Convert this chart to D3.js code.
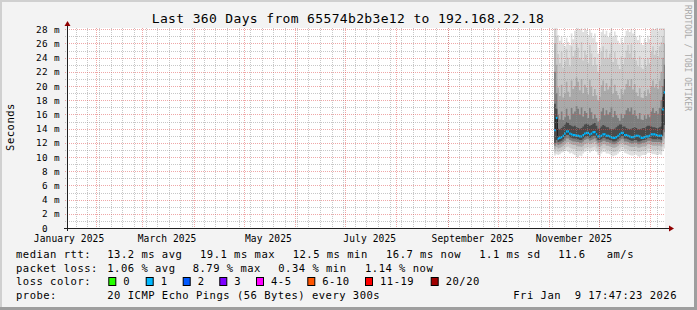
<!DOCTYPE html>
<html><head><meta charset="utf-8">
<script src="https://cdn.jsdelivr.net/npm/d3@7"></script>
<style>
body{margin:0;background:#f3f3f3}
svg{display:block}
text{font-family:"DejaVu Sans Mono",monospace;fill:#000;white-space:pre}
</style></head>
<body><svg id="chart" width="697" height="310"></svg>
<script>
// ---------- data ----------
const title = "Last 360 Days from 65574b2b3e12 to 192.168.22.18";
const firstDay = "2025-11-04";
const rangeStart = "2025-01-14 17:47:23";
const rangeEnd = "2026-01-09 17:47:23";
const yTicks = [0,2,4,6,8,10,12,14,16,18,20,22,24,26,28];
const yTickLabels = ["0","2 m","4 m","6 m","8 m","10 m","12 m","14 m","16 m","18 m","20 m","22 m","24 m","26 m","28 m"];
const xLabels = ["January 2025","March 2025","May 2025","July 2025","September 2025","November 2025"];
const xLabelDates = ["2025-01-16","2025-03-16","2025-05-16","2025-07-16","2025-09-16","2025-11-16"];

// median rtt per day (ms)
const median = [13.8,15.5,12.6,12.7,12.8,13.0,13.3,13.6,13.6,13.3,13.2,13.1,13.1,13.0,13.0,12.9,12.9,13.1,13.3,13.4,
 13.4,13.2,13.3,13.5,13.5,13.2,12.9,12.9,13.0,13.2,13.2,13.0,13.0,12.9,12.8,12.7,12.7,12.8,13.0,13.2,
 13.4,13.4,13.1,13.1,13.0,12.9,12.8,12.8,12.9,13.0,13.0,12.9,12.7,12.7,12.8,12.9,12.9,13.0,13.2,13.2,
 13.2,13.1,13.0,13.0,13.0,16.7,19.1];
// smoke: ping distribution boundaries per day (ms), outer -> inner
const up5 = [28.2,28.2,27.2,26.4,27.0,26.0,25.6,26.8,26.2,25.8,27.4,26.6,27.8,28.0,28.2,28.0,28.2,27.6,28.2,27.9,
 27.2,28.0,27.5,26.8,27.4,26.2,24.6,25.4,27.6,28.0,27.3,27.8,26.9,27.5,28.1,27.0,27.7,27.2,26.4,25.9,
 26.8,26.1,27.0,27.8,28.0,27.6,28.1,27.4,27.9,27.0,26.5,27.2,26.0,25.8,26.7,26.2,27.1,26.6,27.9,28.2,
 28.0,28.2,27.8,28.2,28.2,28.2,28.2];
const up4 = [28.0,27.0,24.5,23.2,24.8,22.6,23.5,25.2,24.0,22.8,25.6,24.2,25.0,26.0,25.4,24.0,26.2,23.6,25.0,24.4,
 23.2,25.8,24.6,22.9,24.1,23.0,22.0,22.8,24.8,25.6,23.9,25.2,24.0,24.6,26.0,23.4,24.8,23.8,23.0,22.4,
 24.2,23.1,24.0,25.0,25.8,24.6,25.9,24.0,25.0,23.6,22.8,24.2,22.6,22.4,23.8,22.9,24.0,23.2,24.8,25.6,
 24.4,25.0,24.2,25.6,26.2,27.0,28.0];
const up3 = [26.0,23.0,19.8,18.6,20.2,18.4,19.0,20.6,19.2,18.5,20.8,19.6,20.0,21.2,20.6,19.4,21.0,19.0,20.2,19.8,
 18.8,20.9,19.9,18.6,19.6,18.7,18.0,18.5,20.1,20.8,19.3,20.4,19.5,19.9,21.0,18.9,20.2,19.3,18.7,18.2,
 19.6,18.8,19.5,20.3,20.9,20.0,21.0,19.5,20.3,19.1,18.6,19.7,18.4,18.3,19.3,18.6,19.5,18.9,20.0,20.8,
 19.8,20.3,19.6,20.8,22.0,24.0,26.0];
const up2 = [22.0,19.0,16.0,15.3,16.4,15.2,15.6,16.8,15.8,15.3,16.9,16.1,16.4,17.2,16.8,16.0,17.0,15.7,16.5,16.2,
 15.5,16.9,16.3,15.4,16.0,15.5,15.0,15.3,16.4,16.9,15.9,16.6,16.0,16.3,17.0,15.6,16.5,15.9,15.5,15.1,
 16.1,15.5,16.0,16.6,16.9,16.4,17.0,16.0,16.6,15.8,15.4,16.2,15.3,15.2,15.9,15.4,16.0,15.6,16.4,16.9,
 16.2,16.5,16.1,16.9,18.0,20.0,23.0];
const up1 = [17.5,16.8,14.0,13.9,14.1,14.3,14.6,14.9,14.8,14.5,14.4,14.3,14.4,14.2,14.1,14.0,14.1,14.3,14.6,14.7,
 14.6,14.4,14.5,14.7,14.8,14.4,14.0,14.1,14.3,14.5,14.4,14.2,14.2,14.0,13.9,13.9,14.0,14.2,14.4,14.6,
 14.6,14.3,14.3,14.1,14.0,13.9,14.0,14.1,14.2,14.1,13.9,13.9,14.0,14.1,14.1,14.3,14.4,14.4,14.3,14.2,
 14.2,14.1,14.1,14.2,14.3,18.5,21.0];
const lo1 = [12.0,12.4,12.1,12.2,12.3,12.5,12.8,13.1,13.1,12.8,12.7,12.6,12.6,12.5,12.5,12.4,12.4,12.6,12.8,12.9,
 12.9,12.7,12.8,13.0,13.0,12.7,12.4,12.4,12.5,12.7,12.7,12.5,12.5,12.4,12.3,12.2,12.2,12.3,12.5,12.7,
 12.9,12.9,12.6,12.6,12.5,12.4,12.3,12.3,12.4,12.4,12.2,12.2,12.3,12.4,12.4,12.5,12.7,12.7,12.6,12.5,
 12.5,12.5,12.5,12.5,12.4,13.8,14.5];
const lo2 = [11.6,11.9,11.7,11.8,11.9,12.1,12.3,12.6,12.6,12.4,12.3,12.2,12.2,12.1,12.1,12.0,12.0,12.2,12.4,12.5,
 12.5,12.3,12.4,12.5,12.6,12.3,12.0,12.0,12.1,12.3,12.3,12.1,12.1,12.0,11.9,11.8,11.8,11.9,12.1,12.3,
 12.5,12.5,12.2,12.2,12.1,12.0,11.9,11.9,12.0,12.0,11.8,11.8,11.9,12.0,12.0,12.1,12.3,12.3,12.2,12.1,
 12.1,12.1,12.1,12.1,12.0,13.0,13.5];
const lo3 = [11.1,11.4,11.2,11.3,11.4,11.6,11.8,12.0,12.1,11.9,11.8,11.7,11.7,11.6,11.5,11.5,11.4,11.6,11.8,11.9,
 12.0,11.8,11.9,12.0,12.1,11.8,11.5,11.4,11.6,11.8,11.8,11.6,11.6,11.5,11.4,11.3,11.3,11.4,11.6,11.8,
 12.0,12.0,11.7,11.7,11.6,11.5,11.4,11.4,11.5,11.5,11.3,11.3,11.4,11.5,11.5,11.6,11.8,11.8,11.7,11.6,
 11.6,11.6,11.6,11.6,11.5,12.2,12.6];
const lo4 = [10.6,10.9,10.7,10.8,10.9,11.0,11.2,11.4,11.5,11.3,11.2,11.1,11.1,10.9,10.8,10.9,10.8,11.0,11.2,11.3,
 11.4,11.2,11.3,11.4,11.5,11.2,10.8,10.7,11.0,11.2,11.2,11.0,11.0,10.9,10.8,10.7,10.7,10.8,11.0,11.2,
 11.4,11.4,11.1,11.1,11.0,10.9,10.8,10.8,10.9,10.9,10.7,10.7,10.8,10.9,10.9,11.0,11.2,11.2,11.1,11.0,
 11.0,11.0,11.0,11.0,10.9,11.5,11.8];
const lo5 = [10.2,10.4,10.3,10.4,10.6,10.7,10.8,10.9,10.7,10.5,10.6,10.4,10.3,10.0,9.9,10.2,10.1,10.5,10.7,10.8,
 10.9,10.6,10.8,10.9,11.0,10.7,10.3,10.1,10.5,10.7,10.7,10.5,10.5,10.4,10.2,10.1,10.2,10.3,10.5,10.7,
 10.9,10.9,10.6,10.5,10.4,10.3,10.2,10.2,10.4,10.3,10.1,10.0,10.2,10.3,10.3,10.4,10.6,10.6,10.5,10.4,
 10.4,10.3,10.3,10.4,10.3,10.8,11.2];

const legendRtt = [["median rtt:",16],["13.2 ms avg",107.3],["19.1 ms max",200],["12.5 ms min",292.7],["16.7 ms now",386],["1.1 ms sd",479.3],["11.6",558.3],["am/s",606.7]];
const legendLoss = [["packet loss:",16],["1.06 % avg",107.3],["8.79 % max",192.7],["0.34 % min",278.3],["1.14 % now",365]];
const lossLabels = ["0","1","2","3","4-5","6-10","11-19","20/20"];
const lossColors = ["#26ff00","#00b8ff","#0059ff","#7e00ff","#ff00ff","#ff5500","#ff0000","#a00000"];
const lossX = [108.3,145.7,182.7,219.3,256,307.3,365,430.7];
const probeText = "20 ICMP Echo Pings (56 Bytes) every 300s";
const stampText = "Fri Jan  9 17:47:23 2026";

// ---------- layout ----------
const L = 67, R = 665, T = 28, B = 228;
const svg = d3.select("#chart");
const pt = d3.timeParse("%Y-%m-%d %H:%M:%S"), pd = d3.timeParse("%Y-%m-%d");
const t0 = pt(rangeStart), t1 = pt(rangeEnd);
const x = d3.scaleTime().domain([t0, t1]).range([L, R]);
const y = d3.scaleLinear().domain([0, 28.18]).range([B, T]);
const day0 = pd(firstDay);
const dayAt = i => d3.timeDay.offset(day0, i);

// background and shading
svg.append("rect").attr("width",697).attr("height",310).attr("fill","#f3f3f3");
svg.append("rect").attr("x",0).attr("y",0).attr("width",697).attr("height",2).attr("fill","#d0d0d0");
svg.append("rect").attr("x",0).attr("y",0).attr("width",2).attr("height",310).attr("fill","#d0d0d0");
svg.append("rect").attr("x",0).attr("y",307).attr("width",697).attr("height",3).attr("fill","#9e9e9e");
svg.append("rect").attr("x",694).attr("y",0).attr("width",3).attr("height",310).attr("fill","#9e9e9e");

// canvas
svg.append("rect").attr("x",L).attr("y",T).attr("width",R-L).attr("height",B-T).attr("fill","#ffffff");
svg.append("clipPath").attr("id","clip").append("rect").attr("x",L).attr("y",T).attr("width",R-L).attr("height",B-T);
const plot = svg.append("g").attr("clip-path","url(#clip)");

// smoke
const rows = median.map((m,i)=>({t:dayAt(i), i}));
rows.push({t:dayAt(median.length), i:median.length-1});
const bands = [[lo5,up5,"#dfdfdf"],[lo4,up4,"#c9c9c9"],[lo3,up3,"#aaaaaa"],[lo2,up2,"#7e7e7e"],[lo1,up1,"#4a4a4a"]];
bands.forEach(([lo,hi,c])=>{
  plot.append("path").datum(rows)
    .attr("d", d3.area().curve(d3.curveStepAfter).x(d=>x(d.t)).y0(d=>y(lo[d.i])).y1(d=>y(hi[d.i])))
    .attr("fill", c);
});
// median
plot.append("path").datum(rows)
  .attr("d", d3.line().curve(d3.curveStepAfter).x(d=>x(d.t)).y(d=>y(median[d.i])))
  .attr("fill","none").attr("stroke","#202020").attr("stroke-width",1);
plot.selectAll("line.med").data(median).join("line").attr("class","med")
  .attr("x1",(d,i)=>x(dayAt(i))).attr("x2",(d,i)=>x(dayAt(i+1)))
  .attr("y1",d=>y(d)).attr("y2",d=>y(d))
  .attr("stroke","#00b8ff").attr("stroke-width",2.2);

// grid (drawn on top, semi-transparent)
const gridMinor = "rgba(144,144,144,0.5)", gridMajor = "rgba(224,80,80,0.5)";
const grid = svg.append("g").attr("shape-rendering","crispEdges");
const minorY = d3.range(1, 29, 2);
grid.selectAll("line.hy").data(minorY).join("line")
  .attr("x1",L-2).attr("x2",R).attr("y1",d=>Math.round(y(d))+0.5).attr("y2",d=>Math.round(y(d))+0.5)
  .attr("stroke",gridMinor).attr("stroke-dasharray","1,1");
const weeks = d3.timeMonday.range(t0, t1);
grid.selectAll("line.vx").data(weeks).join("line")
  .attr("x1",d=>Math.round(x(d))+0.5).attr("x2",d=>Math.round(x(d))+0.5).attr("y1",T).attr("y2",B+2)
  .attr("stroke",gridMinor).attr("stroke-dasharray","1,1");
grid.selectAll("line.my").data(yTicks.slice(1)).join("line")
  .attr("x1",L-2).attr("x2",R).attr("y1",d=>Math.round(y(d))+0.5).attr("y2",d=>Math.round(y(d))+0.5)
  .attr("stroke",gridMajor).attr("stroke-dasharray","1,1");
const months = d3.timeMonth.range(t0, t1);
grid.selectAll("line.mx").data(months).join("line")
  .attr("x1",d=>Math.round(x(d))+0.5).attr("x2",d=>Math.round(x(d))+0.5).attr("y1",T).attr("y2",B+2)
  .attr("stroke",gridMajor).attr("stroke-dasharray","1,1");

// axes
const ax = svg.append("g").attr("shape-rendering","crispEdges");
ax.append("line").attr("x1",L-3).attr("x2",R+4).attr("y1",B+0.5).attr("y2",B+0.5).attr("stroke","#202020");
ax.append("line").attr("x1",L+0.5).attr("x2",L+0.5).attr("y1",B+3).attr("y2",T-4).attr("stroke","#202020");
svg.append("path").attr("d",`M${L-2.5},${T-2}L${L+3.5},${T-2}L${L+0.5},${T-7}Z`).attr("fill","#900000");
svg.append("path").attr("d",`M${R+4},${B-2.5}L${R+4},${B+3.5}L${R+9},${B+0.5}Z`).attr("fill","#900000");

// y tick labels
svg.append("g").selectAll("text").data(yTicks).join("text")
  .attr("x",(d,i)=> d===0 ? 48 : 60).attr("y",d=>y(d)+3.5)
  .attr("text-anchor","end").attr("font-size","9.3px").attr("letter-spacing","0.4px")
  .text((d,i)=>yTickLabels[i]);
// x labels
svg.append("g").selectAll("text").data(xLabels).join("text")
  .attr("x",(d,i)=>x(pd(xLabelDates[i]))).attr("y",241.5)
  .attr("text-anchor","middle").attr("font-size","9.6px").attr("letter-spacing","0.1px")
  .text(d=>d);

// title
svg.append("text").attr("x",348).attr("y",23.3).attr("text-anchor","middle")
  .attr("font-size","13px").attr("letter-spacing","0.35px").text(title);
// y title
svg.append("text").attr("transform","translate(13.5,127) rotate(-90)").attr("text-anchor","middle")
  .attr("font-size","10.5px").attr("letter-spacing","0.5px").text("Seconds");
// watermark
svg.append("text").attr("transform","translate(685,5) rotate(90)").attr("text-anchor","start")
  .attr("font-size","8px").attr("letter-spacing","0px").style("fill","#a8a8a8").text("RRDTOOL / TOBI OETIKER");

// legend
const lg = svg.append("g").attr("font-size","10.5px").attr("letter-spacing","0.5px");
lg.selectAll("text.r").data(legendRtt).join("text").attr("x",d=>d[1]).attr("y",257.5).text(d=>d[0]);
lg.selectAll("text.l").data(legendLoss).join("text").attr("x",d=>d[1]).attr("y",271.5).text(d=>d[0]);
lg.append("text").attr("x",16).attr("y",285).text("loss color:");
lg.selectAll("rect.c").data(lossColors).join("rect")
  .attr("x",(d,i)=>lossX[i]+0.5).attr("y",277.5).attr("width",7).attr("height",8)
  .attr("fill",d=>d).attr("stroke","#000").attr("stroke-width",1);
lg.selectAll("text.c").data(lossLabels).join("text")
  .attr("x",(d,i)=>lossX[i]+15).attr("y",285).text(d=>d);
lg.append("text").attr("x",16).attr("y",299).text("probe:");
lg.append("text").attr("x",107.3).attr("y",299).text(probeText);
lg.append("text").attr("x",513.3).attr("y",299).attr("xml:space","preserve").text(stampText);
</script></body></html>
